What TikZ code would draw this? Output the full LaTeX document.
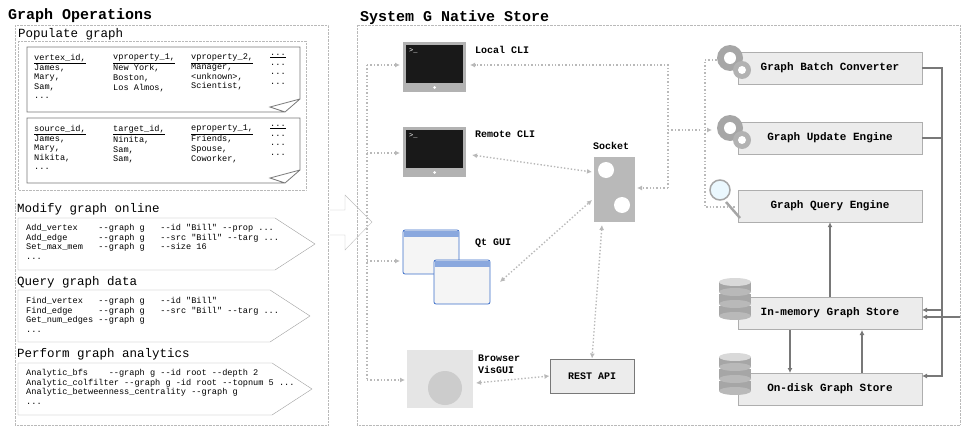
\documentclass[tikz,border=0pt]{standalone}
\usepackage{fontspec}
\setmainfont{Liberation Serif}
\newfontfamily\mono{Liberation Mono}
\usetikzlibrary{positioning,shapes.arrows,shapes.symbols,arrows.meta}
\definecolor{boxgray}{RGB}{236,236,236}
\definecolor{linegray}{RGB}{120,120,120}
\definecolor{dotgray}{RGB}{185,185,185}
\definecolor{winblue}{RGB}{60,110,200}
\tikzset{
  frame/.style={draw=dotgray,densely dotted},
  title/.style={anchor=west,font=\mono\bfseries\fontsize{15}{16}\selectfont,inner sep=0},
  sub/.style={anchor=west,font=\mono\fontsize{12.5}{13}\selectfont,inner sep=0},
  code/.style={anchor=north west,font=\mono\fontsize{8.6}{9.6}\selectfont,align=left,inner sep=0},
  lbl/.style={anchor=west,font=\mono\bfseries\fontsize{10}{12}\selectfont,align=left,inner sep=0},
  store/.style={draw=linegray!60,fill=boxgray,minimum width=184pt,minimum height=32pt,font=\mono\bfseries\fontsize{11}{12}\selectfont},
  dots/.style={dotgray,line width=1.4pt,dotted,-{Latex[length=5pt,width=5pt]}},
  ddots/.style={dots,{Latex[length=5pt,width=5pt]}-{Latex[length=5pt,width=5pt]}},
  bus/.style={linegray,line width=1.5pt,-{Latex[length=5pt,width=5pt]}},
  pen/.style={draw=linegray,line width=0.8pt,fill=white}
}
\newcommand{\screen}[2]{% monitor icon
  \fill[gray!60] (#1,#2) rectangle ++(63,50);
  \fill[black!90] (#1+3,#2+3) rectangle ++(57,38);
  \node[font=\mono\fontsize{7}{7}\selectfont,white,anchor=north west,inner sep=0] at (#1+6,#2+6) {>\_};
  \fill[white] (#1+31.5,#2+45.5) circle (1.5);}
\newcommand{\gears}[2]{% gear icon
  \fill[gray!70] (#1,#2) circle (13); \fill[white] (#1,#2) circle (6);
  \fill[gray!60] (#1+12,#2+12) circle (9); \fill[white] (#1+12,#2+12) circle (4);}
\newcommand{\dbase}[2]{% database icon
  \foreach \k in {2,1,0}{
    \fill[gray!70] (#1-16,#2+\k*12) rectangle (#1+16,#2+\k*12+10);
    \fill[gray!55] (#1,#2+\k*12+10) ellipse (16 and 4);}
  \fill[gray!30] (#1,#2) ellipse (16 and 4);}
\begin{document}
\begin{tikzpicture}[x=1pt,y=-1pt]
\useasboundingbox (0,0) rectangle (975,431);
% left panel
\node[title] (ops) at (8,16) {Graph Operations};
\draw[frame] (15,25) rectangle (328,425);
\node[sub] (pop) at (18,34) {Populate graph};
\draw[frame] (18,41) rectangle (306,190);
\foreach \y in {47,118}
  \draw[pen] (27,\y) -- (300,\y) -- (300,\y+52) -- (285,\y+65) -- (27,\y+65) -- cycle
    (285,\y+65) -- (270,\y+60) -- (300,\y+52);
\node[code] (vtab) at (34,54) {\underline{vertex\_id,}\\James,\\Mary,\\Sam,\\...};
\node[code] (vp1) at (113,54) {\underline{vproperty\_1,}\\New York,\\Boston,\\Los Almos,};
\node[code] (vp2) at (191,54) {\underline{vproperty\_2,}\\Manager,\\<unknown>,\\Scientist,};
\node[code] (vdots) at (270,54) {\underline{...}\\...\\...\\...};
\node[code] (etab) at (34,125) {\underline{source\_id,}\\James,\\Mary,\\Nikita,\\...};
\node[code] (tgt) at (113,125) {\underline{target\_id,}\\Ninita,\\Sam,\\Sam,};
\node[code] (ep1) at (191,125) {\underline{eproperty\_1,}\\Friends,\\Spouse,\\Coworker,};
\node[code] (edots) at (270,125) {\underline{...}\\...\\...\\...};
\foreach \lab/\y/\t/\w in {Modify graph online/218/209/315,Query graph data/290/282/310,Perform graph analytics/363/354/312}{
  \node[sub] at (17,\t) {\lab};
  \draw[draw=linegray!70,fill=white] (18,\y) -- (\w-40,\y) -- (\w,\y+26) -- (\w-40,\y+52) -- (18,\y+52) -- cycle;}
\node[code] (mod) at (26,224) {Add\_vertex\ \ \ \ --graph g\ \ \ --id "Bill" --prop ...\\Add\_edge\ \ \ \ \ \ --graph g\ \ \ --src "Bill" --targ ...\\Set\_max\_mem\ \ \ --graph g\ \ \ --size 16\\...};
\node[code] (qry) at (26,297) {Find\_vertex\ \ \ --graph g\ \ \ --id "Bill"\\Find\_edge\ \ \ \ \ --graph g\ \ \ --src "Bill" --targ ...\\Get\_num\_edges\ --graph g\\...};
\node[code] (ana) at (26,369) {Analytic\_bfs\ \ \ \ --graph g --id root --depth 2\\Analytic\_colfilter --graph g -id root --topnum 5 ...\\Analytic\_betweenness\_centrality --graph g\\...};
% big arrow
\draw[draw=gray!50,fill=white] (330,210) -- (345,210) -- (345,195) -- (372,222) -- (345,250) -- (345,235) -- (330,235);
% right panel
\node[title] (nat) at (360,18) {System G Native Store};
\draw[frame] (357,25) rectangle (960,425);
\screen{403}{42}
\screen{403}{127}
\node[lbl] (lcli) at (475,50) {Local CLI};
\node[lbl] (rcli) at (475,134) {Remote CLI};
\coordinate (lc) at (470,65);
\coordinate (rc) at (472,155);
% qt gui windows
\foreach \x/\y in {403/230,434/260}{
  \draw[winblue,line width=0.8pt,fill=gray!8,rounded corners=2] (\x,\y) rectangle ++(56,44);
  \fill[winblue!60] (\x+0.5,\y+0.5) rectangle ++(55,6);}
\node[lbl] (qt) at (475,243) {Qt GUI};
\coordinate (qc) at (500,282);
% browser
\fill[gray!20] (407,350) rectangle (473,408);
\fill[gray!40] (445,388) circle (17);
\node[lbl] (brw) at (478,364) {Browser\\VisGUI};
\node[draw=linegray,line width=1pt,fill=boxgray,minimum width=84pt,minimum height=34pt,font=\mono\bfseries\fontsize{10}{12}\selectfont] (rest) at (592,376) {REST API};
% socket
\node[lbl] (sock) at (593,146) {Socket};
\fill[gray!55] (594,157) rectangle (635,222);
\fill[white] (606,170) circle (8) (622,205) circle (8);
\coordinate (sk) at (602,188);
% dotted connectors
\coordinate (lx1) at (367,65); \coordinate (lx4) at (367,380);
\draw[dotgray,line width=1.4pt,dotted] (lx1) -- (lx4);
\foreach \y/\x in {65/400,153/400,261/400,380/405}
  \draw[dots] (367,\y) -- (\x,\y);
\draw[dots] (668,188) -- (668,65) -- (lc);
\draw[dots] (668,188) -- (637,188);
\draw[dotgray,line width=1.4pt,dotted] (668,130) -- (700,130);
\draw[ddots] (rc) -- (592,172);
\draw[ddots] (qc) -- (592,200);
\draw[ddots] (602,225) -- (rest.north);
\draw[ddots] (476,383) -- (rest.west);
% store boxes
\node[store] (batch) at (830,68) {Graph Batch Converter};
\node[store] (upd) at (830,138) {Graph Update Engine};
\node[store] (qeng) at (830,206) {Graph Query Engine};
\node[store] (mem) at (830,313) {In-memory Graph Store};
\node[store] (disk) at (830,389) {On-disk Graph Store};
\draw[dotgray,line width=1.4pt,dotted] (720,60) -- (705,60) -- (705,207) -- (735,207);
\draw[dots] (705,130) -- (712,130);
\gears{730}{58} \gears{730}{128}
\draw[gray!70,line width=2.5pt] (726,202) -- (740,218);
\draw[gray!70,line width=1.5pt,fill=cyan!8] (720,190) circle (10);
\dbase{735}{282} \dbase{735}{357}
% bus lines
\draw[bus] (batch.east) -- (942,68) -- (942,376) -- (922,376);
\draw[bus,-] (upd.east) -- (942,138);
\draw[bus] (942,310) -- (922,310);
\draw[bus] (960,317) -- (922,317);
\draw[bus] (mem.north) -- (qeng.south);
\draw[bus] (790,330) -- (790,373);
\draw[bus] (862,373) -- (862,330);
\end{tikzpicture}
\end{document}
